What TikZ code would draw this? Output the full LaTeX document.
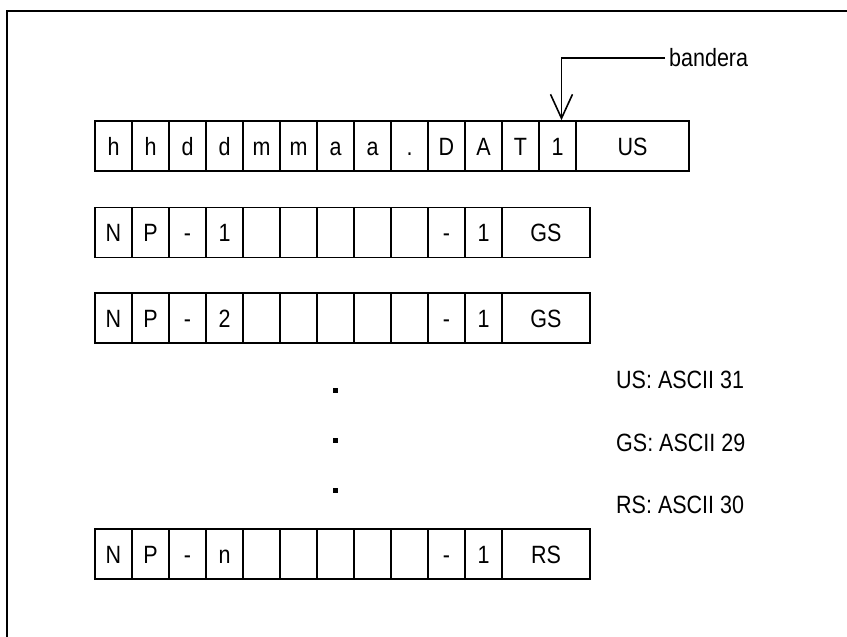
\documentclass[tikz,border=0pt]{standalone}
\usepackage{fontspec}
\setmainfont{Liberation Sans}[FakeStretch=0.86]
\usetikzlibrary{arrows.meta, positioning}
\tikzset{
    cell/.style={draw, line width=1.6pt, rectangle, minimum width=37pt,
                 minimum height=50pt, inner sep=0pt,
                 font=\fontsize{25}{29}\selectfont,
                 text height=18pt, text depth=0pt},
    tailcell/.style={cell, minimum width=#1},
    legend/.style={anchor=west, inner sep=0pt,
                   font=\fontsize{25}{29}\selectfont},
    flagarrow/.style={-{Straight Barb[length=24pt, width=22pt]},
                      line width=1.6pt},
    vdot/.style={rectangle, fill, inner sep=0pt, minimum size=5pt},
}

\begin{document}
\begin{tikzpicture}[x=1pt, y=-1pt]
\useasboundingbox (0,0) rectangle (847,637);
% --- frame ---
\draw[line width=1.8pt] (7,645) -- (7,11) -- (855,11);

% --- file name record ---
\foreach \c [count=\i] in {h,h,d,d,m,m,a,a,.,D,A,T,1}
    \node[cell] (r1-\i) at ({95+37*(\i-0.5)},146) {\c};
\node[tailcell=113pt] (r1-us) at (632.5,146) {US};

\node[legend] (bandera) at (669,58) {bandera};
\draw[flagarrow] ([xshift=-4pt]bandera.west) -| ([xshift=4pt]r1-13.north);

% --- data records ---
\foreach \r/\y/\t in {1/232.5/GS, 2/318/GS, n/554/RS} {
    \foreach \c [count=\i] in {N,P,-,\r,{},{},{},{},{},-,1}
        \node[cell] (r\r-\i) at ({95+37*(\i-0.5)},\y) {\c};
    \node[tailcell=88pt] (r\r-sep) at (546,\y) {\t};
}

% --- dots ---
\foreach \y [count=\k] in {390,440,490}
    \node[vdot] (dot-\k) at (335,\y) {};

% --- legend ---
\node[legend] (leg-us) at (616,380) {US: ASCII 31};
\node[legend] (leg-gs) at (616,443) {GS: ASCII 29};
\node[legend] (leg-rs) at (616,505) {RS: ASCII 30};
\end{tikzpicture}
\end{document}
